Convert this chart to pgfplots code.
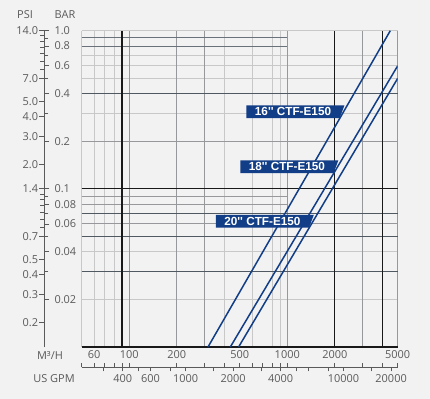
\documentclass[border=0pt]{standalone}
\usepackage{pgfplots}
\pgfplotsset{compat=1.18}
\usepackage{fontspec}
\setmainfont{Open Sans}
\newfontfamily\boxfont{Liberation Sans}
\usetikzlibrary{shapes.geometric}

\definecolor{bgc}{RGB}{242,242,242}
\definecolor{gl}{RGB}{200,200,200}
\definecolor{gm}{RGB}{150,152,155}
\definecolor{gd}{RGB}{80,88,98}
\definecolor{gk}{RGB}{25,25,25}
\definecolor{navy}{RGB}{18,62,135}
\definecolor{txt}{RGB}{90,90,90}

\newcommand{\lblfont}{\fontsize{11}{12}\selectfont}

\tikzset{
 lbl/.style={trapezium, trapezium left angle=90, trapezium right angle=120,
   trapezium stretches body, fill=navy, text=white, minimum width=98bp,
   minimum height=12.8bp, inner sep=0pt, anchor=bottom right corner,
   font=\boxfont\bfseries\fontsize{11.8}{12}\selectfont},
}

\begin{document}
\begin{tikzpicture}
\fill[bgc] (0,0) rectangle (430bp,399bp);

% light grid lines
\begin{axis}[at={(81.7bp,52bp)}, anchor=south west, scale only axis,
   width=316bp, height=316.3bp, xmode=log, ymode=log,
   xmin=50, xmax=5000, ymin=0.01, ymax=1,
   axis line style={draw=none}, xticklabels={}, yticklabels={},
   major tick length=0pt, minor tick length=0pt,
   grid=major, major grid style={gl, line width=0.8bp},
  xtick={50,60,70,80,400,600,800,900},
  ytick={1,0.7,0.6,0.5,0.3,0.04,0.02}]
\end{axis}

% medium grid lines
\begin{axis}[at={(81.7bp,52bp)}, anchor=south west, scale only axis,
   width=316bp, height=316.3bp, xmode=log, ymode=log,
   xmin=50, xmax=5000, ymin=0.01, ymax=1,
   axis line style={draw=none}, xticklabels={}, yticklabels={},
   major tick length=0pt, minor tick length=0pt,
   grid=major, major grid style={gm, line width=0.9bp},
  xtick={100,200,300,1000,3000,5000},
  ytick={0.2,0.06}]
\addplot[gm, line width=0.9bp] coordinates {(50,0.09) (1000,0.09)};
\addplot[gm, line width=0.9bp] coordinates {(50,0.08) (1000,0.08)};
\end{axis}

% dark grid lines
\begin{axis}[at={(81.7bp,52bp)}, anchor=south west, scale only axis,
   width=316bp, height=316.3bp, xmode=log, ymode=log,
   xmin=50, xmax=5000, ymin=0.01, ymax=1,
   axis line style={draw=none}, xticklabels={}, yticklabels={},
   major tick length=0pt, minor tick length=0pt,
   grid=major, major grid style={gd, line width=0.9bp},
  xtick=\empty,
  ytick={0.4,0.07,0.05,0.03}]
\addplot[gd!85, line width=0.9bp] coordinates {(50,0.9) (1000,0.9)};
\addplot[gd!85, line width=0.9bp] coordinates {(50,0.8) (1000,0.8)};
\end{axis}

% black grid lines
\begin{axis}[at={(81.7bp,52bp)}, anchor=south west, scale only axis,
   width=316bp, height=316.3bp, xmode=log, ymode=log,
   xmin=50, xmax=5000, ymin=0.01, ymax=1,
   axis line style={draw=none}, xticklabels={}, yticklabels={},
   major tick length=0pt, minor tick length=0pt,
   grid=major, major grid style={gk, line width=1.2bp},
  xtick={90,2000,4000},
  ytick={0.1,0.01}]
\end{axis}

% main axis: curves, labels
\begin{axis}[at={(81.7bp,52bp)}, anchor=south west, scale only axis,
   width=316bp, height=316.3bp, xmode=log, ymode=log,
   xmin=50, xmax=5000, ymin=0.01, ymax=1,
  axis line style={draw=none},
  xtick={60,100,200,500,1000,2000,5000},
  xticklabels={60,100,200,500,1000,2000,5000},
  ytick=\empty,
  major tick length=0pt, minor tick length=0pt,
  xticklabel style={font=\lblfont, text=txt}]
\addplot[navy, line width=1.5bp] coordinates {(315,0.01) (4487,1)};
\addplot[navy, line width=1.5bp] coordinates {(436,0.01) (5000,0.6)};
\addplot[navy, line width=1.5bp] coordinates {(492,0.01) (5000,0.5)};
\node[lbl] at (axis cs:2149,0.279) {16'' CTF-E150};
\node[lbl] at (axis cs:1966,0.1252) {18'' CTF-E150};
\node[lbl] at (axis cs:1376,0.0567) {20'' CTF-E150};
\end{axis}

% PSI scale
\begin{axis}[at={(44.3bp,52bp)}, anchor=south west, scale only axis,
  width=5bp, height=316.3bp, ymode=log, ymin=0.14, ymax=14, xmin=0, xmax=1,
  axis x line=none, axis y line*=left,
  y axis line style={-, draw=txt, line width=1bp},
  ytick={14,7,5,4,3,2,1.4,0.7,0.5,0.4,0.3,0.2},
  yticklabels={14.0,7.0,5.0,4.0,3.0,2.0,1.4,0.7,0.5,0.4,0.3,0.2},
  minor ytick={13,12,11,10,9,8,1.3,1.2,1.1,1,0.9,0.8},
  tick align=outside, major tick length=5bp, minor tick length=4bp,
  tick style={draw=txt, line width=0.8bp},
  yticklabel style={font=\lblfont, text=txt, inner xsep=1bp}]
\end{axis}

% BAR scale
\begin{axis}[at={(44.3bp,52bp)}, anchor=south east, scale only axis,
  width=5bp, height=316.3bp, ymode=log, ymin=0.01, ymax=1, xmin=0, xmax=1,
  axis x line=none, axis y line*=right,
  y axis line style={-, draw=none},
  ytick={1,0.8,0.6,0.4,0.2,0.1,0.08,0.06,0.04,0.02},
  yticklabels={1.0,0.8,0.6,0.4,0.2,0.1,0.08,0.06,0.04,0.02},
  minor ytick={0.9,0.7,0.5,0.3,0.09,0.07,0.05,0.03},
  tick align=outside, major tick length=5bp, minor tick length=4bp,
  tick style={draw=txt, line width=0.8bp},
  yticklabel style={font=\lblfont, text=txt, inner xsep=5bp}]
\end{axis}

% m3/h ticks (up) on the lower scale line
\begin{axis}[at={(81.7bp,31.7bp)}, anchor=south west, scale only axis,
  width=316bp, height=10bp, xmode=log, xmin=50, xmax=5000, ymin=0, ymax=1,
  axis y line=none, axis x line*=bottom, x axis line style={-, draw=none},
  xtick={50,60,70,80,90,100,200,300,400,500,600,700,800,900,1000,2000,3000,4000,5000},
  xticklabels={},
  tick align=inside, major tick length=4bp,
  tick style={draw=txt, line width=0.8bp}]
\end{axis}

% US GPM scale
\begin{axis}[at={(81.7bp,31.7bp)}, anchor=south west, scale only axis,
  width=316bp, height=10bp, xmode=log, xmin=220.15, xmax=22015, ymin=0, ymax=1,
  axis y line=none, axis x line*=bottom,
  x axis line style={-, draw=txt, line width=1bp},
  xtick={300,400,500,600,800,1000,1500,2000,3000,4000,5000,6000,8000,10000,15000,20000},
  xticklabels={,400,,600,,1000,,2000,,4000,,,,10000,,20000},
  tick align=outside, major tick length=4bp,
  tick style={draw=txt, line width=0.8bp},
  xticklabel style={font=\lblfont, text=txt}]
\end{axis}

\node[font=\lblfont, text=txt] at (25bp,384bp) {PSI};
\node[font=\lblfont, text=txt] at (65bp,384bp) {BAR};
\node[font=\lblfont, text=txt] at (50bp,43.3bp) {M³/H};
\node[font=\lblfont, text=txt] at (54bp,20.7bp) {US GPM};

\pgfresetboundingbox
\path (0,0) rectangle (430bp,399bp);
\end{tikzpicture}
\end{document}
